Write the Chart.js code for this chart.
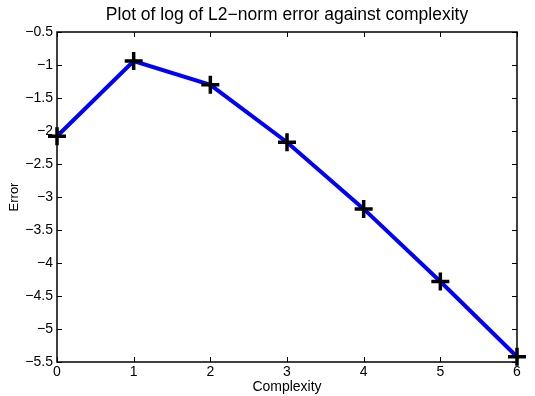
<!DOCTYPE html>
<html><head><meta charset="utf-8">
<script src="https://cdn.jsdelivr.net/npm/chart.js@4/dist/chart.umd.min.js"></script>
<style>html,body{margin:0;padding:0;background:#fff}#wrap{width:535px;height:396px}</style>
</head><body><div id="wrap"><canvas id="c" width="535" height="396"></canvas></div>
<script>
const complexity = [0, 1, 2, 3, 4, 5, 6];
const logError = [-2.08, -0.94, -1.30, -2.17, -3.18, -4.28, -5.42];
const yTicks = [-5.5, -5, -4.5, -4, -3.5, -3, -2.5, -2, -1.5, -1, -0.5];
const xTicks = [0, 1, 2, 3, 4, 5, 6];
const chartTitle = 'Plot of log of L2\u2212norm error against complexity';

const FONT = '"Liberation Sans", Arial, Helvetica, sans-serif';
const fmt = v => String(v).replace('-', '\u2212');

const boxTicks = {
  id: 'boxTicks',
  afterDatasetsDraw(chart) {
    const {ctx, chartArea: a, scales: {x, y}} = chart;
    ctx.save();
    ctx.strokeStyle = '#000';
    ctx.lineWidth = 1;
    ctx.beginPath();
    const L = 5;
    xTicks.forEach(v => {
      const px = Math.round(x.getPixelForValue(v)) + 0.5;
      ctx.moveTo(px, a.bottom); ctx.lineTo(px, a.bottom - L);
      ctx.moveTo(px, a.top); ctx.lineTo(px, a.top + L);
    });
    yTicks.forEach(v => {
      const py = Math.round(y.getPixelForValue(v)) + 0.5;
      ctx.moveTo(a.left, py); ctx.lineTo(a.left + L, py);
      ctx.moveTo(a.right, py); ctx.lineTo(a.right - L, py);
    });
    ctx.stroke();
    ctx.lineWidth = 1.5;
    ctx.strokeRect(a.left, a.top, a.right - a.left, a.bottom - a.top);
    ctx.restore();
  },
  afterDraw(chart) {
    const {ctx, chartArea: a} = chart;
    ctx.save();
    ctx.fillStyle = '#000';
    ctx.font = '17.5px ' + FONT;
    ctx.textAlign = 'center';
    ctx.textBaseline = 'middle';
    ctx.fillText(chartTitle, (a.left + a.right) / 2, 15);
    ctx.restore();
  }
};

new Chart(document.getElementById('c'), {
  type: 'line',
  data: {
    datasets: [{
      data: complexity.map((c, i) => ({x: c, y: logError[i]})),
      borderColor: '#0000ff',
      borderWidth: 4,
      pointStyle: 'cross',
      pointRadius: 9,
      pointBorderColor: '#000',
      pointBackgroundColor: '#000',
      pointBorderWidth: 3.5,
      clip: false,
      tension: 0
    }]
  },
  options: {
    responsive: false,
    animation: false,
    devicePixelRatio: 1,
    layout: {padding: {left: 0, right: 18, top: 32, bottom: 0}},
    plugins: {
      legend: {display: false},
      tooltip: {enabled: false},
      title: {display: false}
    },
    scales: {
      x: {
        type: 'linear', min: 0, max: 6,
        afterFit: s => { s.height = 34; },
        afterBuildTicks: s => { s.ticks = xTicks.map(v => ({value: v})); },
        grid: {display: false, drawTicks: false},
        border: {display: false},
        ticks: {color: '#000', font: {family: FONT, size: 14}, padding: 2, maxRotation: 0, callback: v => fmt(v)},
        title: {display: true, text: 'Complexity', color: '#000', font: {family: FONT, size: 14}, padding: {top: 0, bottom: 0}}
      },
      y: {
        type: 'linear', min: -5.5, max: -0.5,
        afterFit: s => { s.width = 57; },
        afterBuildTicks: s => { s.ticks = yTicks.map(v => ({value: v})); },
        grid: {display: false, drawTicks: false},
        border: {display: false},
        ticks: {color: '#000', font: {family: FONT, size: 14}, padding: 4, callback: v => fmt(v)},
        title: {display: true, text: 'Error', color: '#000', font: {family: FONT, size: 13}, padding: {top: 7, bottom: 0}}
      }
    }
  },
  plugins: [boxTicks]
});
</script></body></html>
